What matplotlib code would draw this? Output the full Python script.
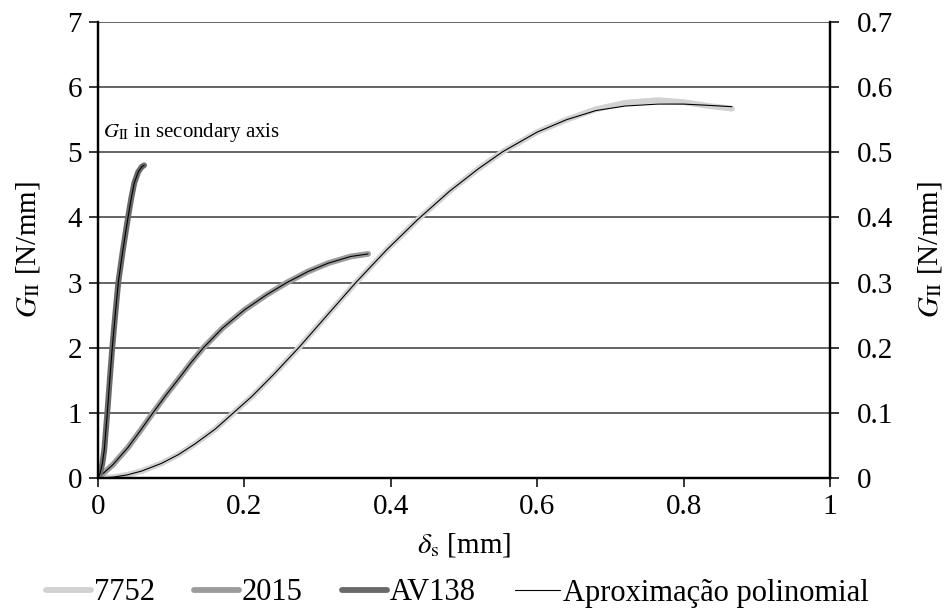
import matplotlib
matplotlib.use("Agg")
import matplotlib.pyplot as plt

plt.rcParams['font.family'] = ['Liberation Serif', 'DejaVu Serif']
plt.rcParams['mathtext.fontset'] = 'stix'

# ---- data ----
d_7752 = [0, 0.02, 0.04, 0.06, 0.087, 0.11, 0.132, 0.16, 0.185, 0.21, 0.24, 0.275,
          0.31, 0.353, 0.395, 0.437, 0.48, 0.52, 0.553, 0.6, 0.64, 0.68, 0.72,
          0.765, 0.8, 0.835, 0.866]
g_7752 = [0, 0.012, 0.048, 0.108, 0.226, 0.36, 0.52, 0.75, 1.0, 1.25, 1.59, 2.01,
          2.46, 3.01, 3.51, 3.97, 4.4, 4.75, 5.01, 5.31, 5.5, 5.66, 5.76,
          5.8, 5.77, 5.71, 5.67]
poly_7752 = [0, 0.012, 0.048, 0.108, 0.226, 0.36, 0.52, 0.75, 1.0, 1.25, 1.59, 2.01,
             2.46, 3.01, 3.51, 3.97, 4.4, 4.75, 5.01, 5.31, 5.5, 5.64, 5.71,
             5.74, 5.74, 5.72, 5.70]

d_2015 = [0, 0.02, 0.041, 0.058, 0.075, 0.092, 0.11, 0.127, 0.144, 0.17, 0.2,
          0.23, 0.258, 0.287, 0.315, 0.345, 0.369]
g_2015 = [0, 0.2, 0.47, 0.73, 1.0, 1.26, 1.52, 1.77, 2.0, 2.3, 2.58,
          2.81, 3.0, 3.17, 3.3, 3.4, 3.44]

d_av138 = [0, 0.003, 0.0059, 0.0086, 0.0127, 0.016, 0.0195, 0.0235, 0.0277, 0.034,
           0.041, 0.0455, 0.0496, 0.055, 0.06, 0.063]
g_av138 = [0, 0.008, 0.022, 0.043, 0.1, 0.15, 0.2, 0.25, 0.3, 0.35,
           0.4, 0.43, 0.453, 0.47, 0.478, 0.48]  # secondary axis

series_labels = ['7752', '2015', 'AV138', 'Aproximação polinomial']
x_ticks = [0, 0.2, 0.4, 0.6, 0.8, 1]
x_ticklabels = ['0', '0.2', '0.4', '0.6', '0.8', '1']
y_ticks = [0, 1, 2, 3, 4, 5, 6, 7]
y2_ticks = [0, 0.1, 0.2, 0.3, 0.4, 0.5, 0.6, 0.7]
y2_ticklabels = ['0', '0.1', '0.2', '0.3', '0.4', '0.5', '0.6', '0.7']

c_7752 = '#d2d2d2'
c_2015 = '#9c9c9c'
c_av = '#6a6a6a'
lw_thick = 4.2
fs = 21

fig = plt.figure(figsize=(9.47, 6.10), dpi=100)
ax = fig.add_axes([98/947, 1-478/610, (830-98)/947, (478-22)/610])
ax2 = ax.twinx()

ax.set_xlim(0, 1)
ax.set_ylim(0, 7)
ax2.set_ylim(0, 0.7)

ax.yaxis.grid(True, color='#4a4a4a', linewidth=1.2)
ax.set_axisbelow(True)

kw = dict(solid_capstyle='round', solid_joinstyle='round')
l1, = ax.plot(d_7752, g_7752, color=c_7752, lw=lw_thick, **kw)
ax.plot(d_7752, poly_7752, color='black', lw=0.8, **kw)
l2, = ax.plot(d_2015, g_2015, color=c_2015, lw=lw_thick, **kw)
ax.plot(d_2015, g_2015, color='black', lw=0.8, **kw)
l3, = ax2.plot(d_av138, g_av138, color=c_av, lw=lw_thick, **kw)
l4, = ax2.plot(d_av138, g_av138, color='black', lw=0.8, **kw)

ax.set_xticks(x_ticks)
ax.set_xticklabels(x_ticklabels)
ax.set_yticks(y_ticks)
ax2.set_yticks(y2_ticks)
ax2.set_yticklabels(y2_ticklabels)

for a in (ax, ax2):
    a.tick_params(axis='both', labelsize=fs, direction='out', length=6.5, width=1.1, colors='black')
    for s in ['left', 'right', 'bottom']:
        a.spines[s].set_linewidth(1.6)
        a.spines[s].set_color('black')
    a.spines['top'].set_visible(False)
ax.tick_params(axis='x', pad=5)
ax.tick_params(axis='y', pad=5)
ax2.tick_params(axis='y', pad=13)

ax.set_xlabel(r'$\delta_{\mathrm{s}}$ [mm]', fontsize=fs, labelpad=8)
ax.set_ylabel(r'$G_{\mathrm{II}}$ [N/mm]', fontsize=fs, labelpad=18)
ax2.set_ylabel(r'$G_{\mathrm{II}}$ [N/mm]', fontsize=fs, labelpad=16)

ax.text(0.007, 5.3, r'$G_{\mathrm{II}}$ in secondary axis', fontsize=15, va='center', ha='left')

leg = fig.legend([l1, l2, l3, l4], series_labels, loc='center', bbox_to_anchor=(0.483, 1-593/610),
                 ncol=4, frameon=False, fontsize=22, handlelength=1.45, handletextpad=0.1,
                 columnspacing=1.3, borderpad=0, borderaxespad=0)

fig.savefig('out.png', dpi=100)
